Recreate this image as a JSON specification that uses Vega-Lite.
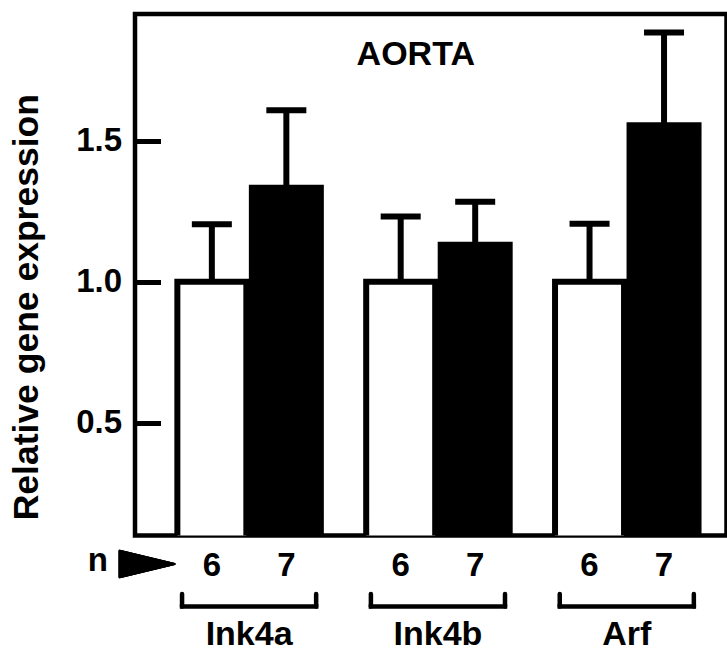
{
  "$schema": "https://vega.github.io/schema/vega-lite/v6.json",
  "padding": {"left": 7, "top": 11, "right": 0, "bottom": 0},
  "background": "white",
  "bounds": "flush",
  "spacing": 0,
  "config": {
    "font": "Liberation Sans",
    "view": {"stroke": null},
    "axis": {
      "labelFont": "Liberation Sans",
      "labelFontWeight": "bold",
      "labelColor": "black",
      "titleFont": "Liberation Sans",
      "titleFontWeight": "bold",
      "titleColor": "black",
      "grid": false,
      "domain": false
    }
  },
  "datasets": {
    "expr": [
      {"gene": "Ink4a", "genotype": "WT", "value": 1.0, "err": 1.204, "n": 6},
      {"gene": "Ink4a", "genotype": "KO", "value": 1.334, "err": 1.609, "n": 7},
      {"gene": "Ink4b", "genotype": "WT", "value": 1.0, "err": 1.232, "n": 6},
      {"gene": "Ink4b", "genotype": "KO", "value": 1.131, "err": 1.284, "n": 7},
      {"gene": "Arf", "genotype": "WT", "value": 1.0, "err": 1.206, "n": 6},
      {"gene": "Arf", "genotype": "KO", "value": 1.555, "err": 1.884, "n": 7}
    ],
    "genes": [{"gene": "Ink4a"}, {"gene": "Ink4b"}, {"gene": "Arf"}]
  },
  "vconcat": [
    {
      "width": 591.5,
      "height": 521.5,
      "view": {"stroke": "black", "strokeWidth": 4.5},
      "title": {
        "text": "AORTA",
        "font": "Liberation Sans",
        "fontSize": 34,
        "fontWeight": "bold",
        "color": "black",
        "anchor": "middle",
        "frame": "group",
        "baseline": "alphabetic",
        "offset": -85,
        "dx": -15
      },
      "data": {"name": "expr"},
      "encoding": {
        "x": {
          "field": "gene",
          "type": "nominal",
          "sort": ["Ink4a", "Ink4b", "Arf"],
          "scale": {"domain": ["Ink4a", "Ink4b", "Arf"], "paddingInner": 0.211, "paddingOuter": 0.1716, "align": 0.611},
          "axis": null
        },
        "xOffset": {
          "field": "genotype",
          "type": "nominal",
          "sort": ["WT", "KO"],
          "scale": {"domain": ["WT", "KO"], "paddingInner": 0.074, "paddingOuter": 0.037}
        }
      },
      "layer": [
        {
          "mark": {"type": "bar", "stroke": "black", "strokeWidth": 6, "clip": true},
          "encoding": {
            "y": {
              "field": "value",
              "type": "quantitative",
              "title": "Relative gene expression",
              "scale": {"domain": [0.1, 1.95], "zero": false, "nice": false},
              "axis": {
                "values": [0.5, 1.0, 1.5],
                "format": ".1f",
                "ticks": true,
                "tickSize": -25.5,
                "tickWidth": 5,
                "tickColor": "black",
                "labelFontSize": 33,
                "labelPadding": 39,
                "titleFontSize": 35.5,
                "titlePadding": 31,
                "titleY": 292.7
              }
            },
            "fill": {
              "field": "genotype",
              "type": "nominal",
              "scale": {"domain": ["WT", "KO"], "range": ["white", "black"]},
              "legend": null
            }
          }
        },
        {
          "mark": {"type": "rule", "strokeWidth": 6, "color": "black"},
          "encoding": {
            "y": {"field": "value", "type": "quantitative"},
            "y2": {"field": "err"}
          }
        },
        {
          "mark": {"type": "tick", "orient": "horizontal", "size": 40, "thickness": 6, "color": "black", "opacity": 1},
          "encoding": {
            "y": {"field": "err", "type": "quantitative"}
          }
        }
      ]
    },
    {
      "width": 591.5,
      "height": 72,
      "layer": [
        {
          "data": {"name": "expr"},
          "mark": {"type": "text", "fontSize": 33, "fontWeight": "bold", "font": "Liberation Sans", "baseline": "alphabetic", "color": "black"},
          "encoding": {
            "x": {
              "field": "gene",
              "type": "nominal",
              "sort": ["Ink4a", "Ink4b", "Arf"],
              "scale": {"domain": ["Ink4a", "Ink4b", "Arf"], "paddingInner": 0.211, "paddingOuter": 0.1716, "align": 0.611},
              "axis": {
                "orient": "bottom",
                "title": null,
                "ticks": false,
                "labelAngle": 0,
                "labelFontSize": 34,
                "labelPadding": 36.5,
                "labelBaseline": "alphabetic"
              }
            },
            "xOffset": {
              "field": "genotype",
              "type": "nominal",
              "sort": ["WT", "KO"],
              "scale": {"domain": ["WT", "KO"], "paddingInner": 0.074, "paddingOuter": 0.037}
            },
            "y": {
              "datum": 3.95,
              "type": "quantitative",
              "scale": {"domain": [0, 7.2], "reverse": true, "nice": false},
              "axis": {
                "values": [3.45],
                "labelExpr": "'n'",
                "ticks": false,
                "title": null,
                "labelFontSize": 33,
                "labelPadding": 27.5,
                "labelBaseline": "alphabetic"
              }
            },
            "text": {"field": "n", "type": "nominal"}
          }
        },
        {
          "data": {"name": "genes"},
          "mark": {"type": "point", "shape": "M-1,-0.241L0,0L-1,0.241Z", "size": 12100, "filled": true, "opacity": 1, "color": "black", "stroke": "black", "strokeWidth": 2, "strokeJoin": "round"},
          "encoding": {
            "x": {"datum": "Ink4a", "type": "nominal", "bandPosition": 0},
            "y": {"datum": 2.8, "type": "quantitative"}
          }
        },
        {
          "data": {"name": "genes"},
          "mark": {"type": "rule", "strokeWidth": 4.5, "color": "black", "strokeCap": "square"},
          "encoding": {
            "x": {"field": "gene", "type": "nominal", "bandPosition": 0.05},
            "x2": {"field": "gene", "bandPosition": 0.95},
            "y": {"datum": 7.05, "type": "quantitative"}
          }
        },
        {
          "data": {"name": "genes"},
          "mark": {"type": "rule", "strokeWidth": 4.5, "color": "black", "strokeCap": "round"},
          "encoding": {
            "x": {"field": "gene", "type": "nominal", "bandPosition": 0.05},
            "y": {"datum": 5.8, "type": "quantitative"},
            "y2": {"datum": 7.05}
          }
        },
        {
          "data": {"name": "genes"},
          "mark": {"type": "rule", "strokeWidth": 4.5, "color": "black", "strokeCap": "round"},
          "encoding": {
            "x": {"field": "gene", "type": "nominal", "bandPosition": 0.95},
            "y": {"datum": 5.8, "type": "quantitative"},
            "y2": {"datum": 7.05}
          }
        }
      ]
    }
  ]
}
